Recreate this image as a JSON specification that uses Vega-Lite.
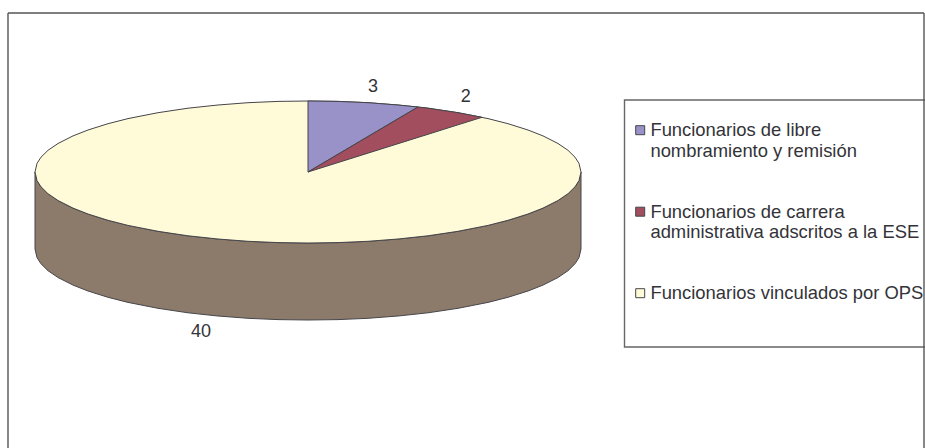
{
  "$schema": "https://vega.github.io/schema/vega-lite/v6.json",
  "width": 925,
  "height": 448,
  "padding": 0,
  "autosize": {"type": "none"},
  "background": "white",
  "config": {"view": {"stroke": null}, "font": "Liberation Sans"},
  "datasets": {
    "marco": [
      {"x": -300, "x2": 616, "y": 159, "y2": 159},
      {"x": -300, "x2": -300, "y": 159, "y2": -276},
      {"x": 616, "x2": 616, "y": 159, "y2": -276}
    ],
    "cajaLeyenda": [
      {"x": 316.5, "x2": 640, "y": 72, "y2": -175}
    ],
    "pared": [
      {"x": -273, "y": 0, "y2": -77},
      {"x": -271, "y": -8.6, "y2": -85.6},
      {"x": -267, "y": -14.8, "y2": -91.8},
      {"x": -260, "y": -21.7, "y2": -98.7},
      {"x": -250, "y": -28.5, "y2": -105.5},
      {"x": -235, "y": -36.1, "y2": -113.1},
      {"x": -220, "y": -42, "y2": -119},
      {"x": -200, "y": -48.3, "y2": -125.3},
      {"x": -180, "y": -53.4, "y2": -130.4},
      {"x": -150, "y": -59.3, "y2": -136.3},
      {"x": -120, "y": -63.8, "y2": -140.8},
      {"x": -90, "y": -67, "y2": -144},
      {"x": -60, "y": -69.3, "y2": -146.3},
      {"x": -30, "y": -70.6, "y2": -147.6},
      {"x": 0, "y": -71, "y2": -148},
      {"x": 30, "y": -70.6, "y2": -147.6},
      {"x": 60, "y": -69.3, "y2": -146.3},
      {"x": 90, "y": -67, "y2": -144},
      {"x": 120, "y": -63.8, "y2": -140.8},
      {"x": 150, "y": -59.3, "y2": -136.3},
      {"x": 180, "y": -53.4, "y2": -130.4},
      {"x": 200, "y": -48.3, "y2": -125.3},
      {"x": 220, "y": -42, "y2": -119},
      {"x": 235, "y": -36.1, "y2": -113.1},
      {"x": 250, "y": -28.5, "y2": -105.5},
      {"x": 260, "y": -21.7, "y2": -98.7},
      {"x": 267, "y": -14.8, "y2": -91.8},
      {"x": 271, "y": -8.6, "y2": -85.6},
      {"x": 273, "y": 0, "y2": -77}
    ],
    "tapa": [
      {"parte": "Funcionarios vinculados por OPS", "x": -273, "y": 0, "y2": 0},
      {"parte": "Funcionarios vinculados por OPS", "x": -271, "y": 8.6, "y2": -8.6},
      {"parte": "Funcionarios vinculados por OPS", "x": -267, "y": 14.8, "y2": -14.8},
      {"parte": "Funcionarios vinculados por OPS", "x": -260, "y": 21.7, "y2": -21.7},
      {"parte": "Funcionarios vinculados por OPS", "x": -250, "y": 28.5, "y2": -28.5},
      {"parte": "Funcionarios vinculados por OPS", "x": -235, "y": 36.1, "y2": -36.1},
      {"parte": "Funcionarios vinculados por OPS", "x": -220, "y": 42, "y2": -42},
      {"parte": "Funcionarios vinculados por OPS", "x": -200, "y": 48.3, "y2": -48.3},
      {"parte": "Funcionarios vinculados por OPS", "x": -180, "y": 53.4, "y2": -53.4},
      {"parte": "Funcionarios vinculados por OPS", "x": -150, "y": 59.3, "y2": -59.3},
      {"parte": "Funcionarios vinculados por OPS", "x": -120, "y": 63.8, "y2": -63.8},
      {"parte": "Funcionarios vinculados por OPS", "x": -90, "y": 67, "y2": -67},
      {"parte": "Funcionarios vinculados por OPS", "x": -60, "y": 69.3, "y2": -69.3},
      {"parte": "Funcionarios vinculados por OPS", "x": -30, "y": 70.6, "y2": -70.6},
      {"parte": "Funcionarios vinculados por OPS", "x": 0, "y": 71, "y2": -71},
      {"parte": "Funcionarios vinculados por OPS", "x": 30, "y": 70.6, "y2": -70.6},
      {"parte": "Funcionarios vinculados por OPS", "x": 60, "y": 69.3, "y2": -69.3},
      {"parte": "Funcionarios vinculados por OPS", "x": 90, "y": 67, "y2": -67},
      {"parte": "Funcionarios vinculados por OPS", "x": 120, "y": 63.8, "y2": -63.8},
      {"parte": "Funcionarios vinculados por OPS", "x": 150, "y": 59.3, "y2": -59.3},
      {"parte": "Funcionarios vinculados por OPS", "x": 180, "y": 53.4, "y2": -53.4},
      {"parte": "Funcionarios vinculados por OPS", "x": 200, "y": 48.3, "y2": -48.3},
      {"parte": "Funcionarios vinculados por OPS", "x": 220, "y": 42, "y2": -42},
      {"parte": "Funcionarios vinculados por OPS", "x": 235, "y": 36.1, "y2": -36.1},
      {"parte": "Funcionarios vinculados por OPS", "x": 250, "y": 28.5, "y2": -28.5},
      {"parte": "Funcionarios vinculados por OPS", "x": 260, "y": 21.7, "y2": -21.7},
      {"parte": "Funcionarios vinculados por OPS", "x": 267, "y": 14.8, "y2": -14.8},
      {"parte": "Funcionarios vinculados por OPS", "x": 271, "y": 8.6, "y2": -8.6},
      {"parte": "Funcionarios vinculados por OPS", "x": 273, "y": 0, "y2": 0},
      {"parte": "Funcionarios de libre nombramiento y remisión", "x": 0, "y": 71, "y2": 0},
      {"parte": "Funcionarios de libre nombramiento y remisión", "x": 30, "y": 70.6, "y2": 17.7},
      {"parte": "Funcionarios de libre nombramiento y remisión", "x": 60, "y": 69.3, "y2": 35.5},
      {"parte": "Funcionarios de libre nombramiento y remisión", "x": 90, "y": 67, "y2": 53.2},
      {"parte": "Funcionarios de libre nombramiento y remisión", "x": 110, "y": 65, "y2": 65},
      {"parte": "Funcionarios de carrera administrativa adscritos a la ESE", "x": 0, "y": 0, "y2": 0},
      {"parte": "Funcionarios de carrera administrativa adscritos a la ESE", "x": 110, "y": 65, "y2": 34.6},
      {"parte": "Funcionarios de carrera administrativa adscritos a la ESE", "x": 120, "y": 63.8, "y2": 37.7},
      {"parte": "Funcionarios de carrera administrativa adscritos a la ESE", "x": 150, "y": 59.3, "y2": 47.2},
      {"parte": "Funcionarios de carrera administrativa adscritos a la ESE", "x": 174, "y": 54.7, "y2": 54.7}
    ],
    "valores": [
      {"parte": "Funcionarios de libre nombramiento y remisión", "valor": 3, "x": 65, "y": 85},
      {"parte": "Funcionarios de carrera administrativa adscritos a la ESE", "valor": 2, "x": 157.7, "y": 75.3},
      {"parte": "Funcionarios vinculados por OPS", "valor": 40, "x": -107, "y": -159.7}
    ]
  },
  "encoding": {
    "x": {"field": "x", "type": "quantitative", "axis": null, "scale": {"domain": [-308, 617], "nice": false, "zero": false}},
    "y": {"field": "y", "type": "quantitative", "axis": null, "scale": {"domain": [-276, 172], "nice": false, "zero": false}}
  },
  "layer": [
    {
      "data": {"name": "cajaLeyenda"},
      "mark": {"type": "rect", "fill": "white", "stroke": "#666666", "strokeWidth": 1.4},
      "encoding": {"x2": {"field": "x2"}, "y2": {"field": "y2"}}
    },
    {
      "data": {"name": "marco"},
      "mark": {"type": "rule", "stroke": "#555555", "strokeWidth": 1.4},
      "encoding": {"x2": {"field": "x2"}, "y2": {"field": "y2"}}
    },
    {
      "data": {"name": "pared"},
      "mark": {"type": "area", "orient": "vertical", "fill": "#8C7B6B", "stroke": "#45454A", "strokeWidth": 1},
      "encoding": {
        "y": {"field": "y", "type": "quantitative", "stack": null},
        "y2": {"field": "y2"}
      }
    },
    {
      "data": {"name": "tapa"},
      "mark": {"type": "area", "orient": "vertical", "stroke": "#45454A", "strokeWidth": 1, "fillOpacity": 1},
      "encoding": {
        "y": {"field": "y", "type": "quantitative", "stack": null},
        "y2": {"field": "y2"},
        "fill": {
          "field": "parte",
          "type": "nominal",
          "scale": {
            "domain": [
              "Funcionarios de libre nombramiento y remisión",
              "Funcionarios de carrera administrativa adscritos a la ESE",
              "Funcionarios vinculados por OPS"
            ],
            "range": ["#9992C8", "#A34E5E", "#FFFAD7"]
          },
          "legend": {
            "title": null,
            "orient": "none",
            "legendX": 631,
            "legendY": 121,
            "padding": 0,
            "symbolType": "square",
            "symbolSize": 81,
            "symbolStrokeColor": "#45454A",
            "symbolStrokeWidth": 1,
            "labelFont": "Liberation Sans",
            "labelFontSize": 18.4,
            "labelColor": "#333338",
            "labelLimit": 400,
            "labelBaseline": "top",
            "labelOffset": 1,
            "rowPadding": 42.5,
            "encoding": {"labels": {"dy": {"value": -9}}},
            "labelExpr": "datum.value == 'Funcionarios de libre nombramiento y remisión' ? ['Funcionarios de libre', 'nombramiento y remisión'] : datum.value == 'Funcionarios de carrera administrativa adscritos a la ESE' ? ['Funcionarios de carrera', 'administrativa adscritos a la ESE'] : datum.value"
          }
        }
      }
    },
    {
      "data": {"name": "valores"},
      "mark": {"type": "text", "font": "Liberation Sans", "fontSize": 18, "fill": "#333338", "align": "center", "baseline": "middle"},
      "encoding": {"text": {"field": "valor", "type": "quantitative"}}
    }
  ]
}
